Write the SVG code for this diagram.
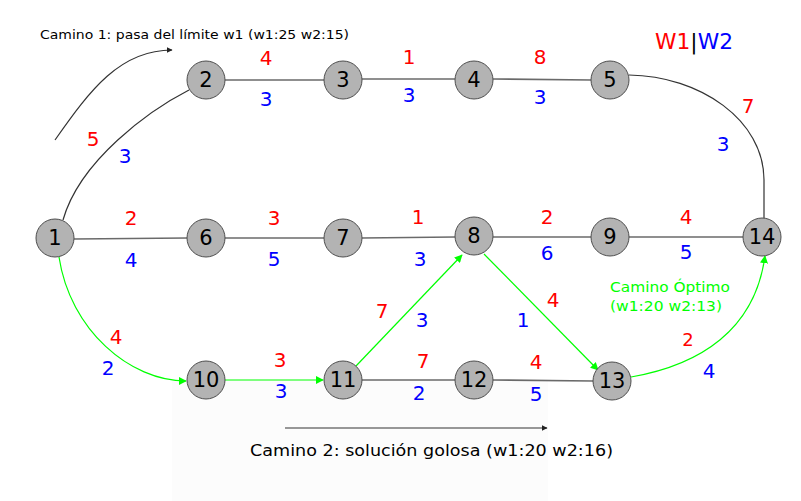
<svg xmlns="http://www.w3.org/2000/svg" width="801" height="501" viewBox="0 0 801 501">
<defs>
<marker id="ag" viewBox="0 0 10 10" refX="9" refY="5" markerWidth="8" markerHeight="8" markerUnits="userSpaceOnUse" orient="auto"><path d="M0,0 L10,5 L0,10 z" fill="#00ff00"/></marker>
<marker id="ak" viewBox="0 0 10 10" refX="9" refY="5" markerWidth="6" markerHeight="6" markerUnits="userSpaceOnUse" orient="auto"><path d="M0,0 L10,5 L0,10 z" fill="#222"/></marker>
</defs>
<style>
.e{fill:none;stroke:#6a6a6a;stroke-width:1.6}
.d{fill:none;stroke:#333;stroke-width:1.2}
.g{fill:none;stroke:#00ff00;stroke-width:1.2;marker-end:url(#ag)}
.n circle{fill:#b3b3b3;stroke:#4d4d4d;stroke-width:1}
.n text{font-family:"DejaVu Sans",sans-serif;font-size:21px;fill:#000;text-anchor:middle}
.r,.b{font-family:"DejaVu Sans",sans-serif;font-size:20px;text-anchor:middle}
.r{fill:#ff0000}.b{fill:#0000ff}
.t{font-family:"DejaVu Sans",sans-serif;font-size:13px}
</style>
<rect width="801" height="501" fill="#fff"/>
<rect x="172" y="380" width="376" height="121" fill="#fcfcfc"/>
<g id="connectors">
<path class="d" d="M63,220 C80,160 150,110 189,90"/>
<path class="e" d="M225,80 L324,80"/>
<path class="e" d="M362,79 L455,79"/>
<path class="e" d="M493,79 L591,80"/>
<path class="d" d="M629,75 C700,76 764,120 764,180 L764,218"/>
<path class="e" d="M74,239 L187,238"/>
<path class="e" d="M225,238 L324,238"/>
<path class="e" d="M362,238 L455,237"/>
<path class="e" d="M493,237 L591,237"/>
<path class="e" d="M629,237 L743,237"/>
<path class="e" d="M362,380 L455,380"/>
<path class="e" d="M493,380 L593,381"/>
<path class="g" d="M59,257 C70,330 130,381 186,381"/>
<path class="g" d="M225,380 L323,380"/>
<path class="g" d="M356,366 L462,255"/>
<path class="g" d="M484,254 L598,370"/>
<path class="g" d="M631,377 C700,365 755,330 765,256"/>
<path class="d" style="marker-end:url(#ak)" d="M55,140 C90,90 120,50 172,50"/>
<path class="d" style="marker-end:url(#ak)" d="M285,428 L547,428"/>
</g>
<g id="n1" class="n"><circle cx="55" cy="238" r="19"/><text x="55" y="245">1</text></g>
<g id="n2" class="n"><circle cx="206" cy="80" r="19"/><text x="206" y="87">2</text></g>
<g id="n3" class="n"><circle cx="343" cy="80" r="19"/><text x="343" y="87">3</text></g>
<g id="n4" class="n"><circle cx="474" cy="80" r="19"/><text x="474" y="87">4</text></g>
<g id="n5" class="n"><circle cx="610" cy="80" r="19"/><text x="610" y="87">5</text></g>
<g id="n6" class="n"><circle cx="206" cy="238" r="19"/><text x="206" y="245">6</text></g>
<g id="n7" class="n"><circle cx="343" cy="238" r="19"/><text x="343" y="245">7</text></g>
<g id="n8" class="n"><circle cx="474" cy="236" r="19"/><text x="474" y="243">8</text></g>
<g id="n9" class="n"><circle cx="610" cy="237" r="19"/><text x="610" y="244">9</text></g>
<g id="n14" class="n"><circle cx="762" cy="237" r="19"/><text x="762" y="244">14</text></g>
<g id="n10" class="n"><circle cx="206" cy="380" r="19"/><text x="206" y="387">10</text></g>
<g id="n11" class="n"><circle cx="343" cy="380" r="19"/><text x="343" y="387">11</text></g>
<g id="n12" class="n"><circle cx="474" cy="380" r="19"/><text x="474" y="387">12</text></g>
<g id="n13" class="n"><circle cx="612" cy="381" r="19"/><text x="612" y="388">13</text></g>
<g id="labels">
<text class="r" x="266" y="65">4</text><text class="b" x="266" y="106">3</text>
<text class="r" x="409" y="64">1</text><text class="b" x="409" y="102">3</text>
<text class="r" x="540" y="64">8</text><text class="b" x="540" y="104">3</text>
<text class="r" x="93" y="146">5</text><text class="b" x="125" y="163">3</text>
<text class="r" x="748" y="113">7</text><text class="b" x="723" y="151">3</text>
<text class="r" x="131" y="225">2</text><text class="b" x="131" y="267">4</text>
<text class="r" x="274" y="225">3</text><text class="b" x="274" y="266">5</text>
<text class="r" x="418" y="224">1</text><text class="b" x="420" y="266">3</text>
<text class="r" x="547" y="224">2</text><text class="b" x="547" y="260">6</text>
<text class="r" x="686" y="224">4</text><text class="b" x="686" y="259">5</text>
<text class="r" x="116" y="344">4</text><text class="b" x="108" y="375">2</text>
<text class="r" x="280" y="367">3</text><text class="b" x="281" y="398">3</text>
<text class="r" x="382" y="318">7</text><text class="b" x="422" y="327">3</text>
<text class="r" x="553" y="307">4</text><text class="b" x="523" y="327">1</text>
<text class="r" x="423" y="368">7</text><text class="b" x="419" y="400">2</text>
<text class="r" x="536" y="369">4</text><text class="b" x="536" y="401">5</text>
<text class="r" x="688" y="346" style="font-size:18px">2</text><text class="b" x="709" y="378">4</text>
<text x="655" y="49" style="font-family:'DejaVu Sans',sans-serif;font-size:21px" textLength="78" lengthAdjust="spacingAndGlyphs"><tspan fill="#ff0000">W1</tspan><tspan fill="#000">|</tspan><tspan fill="#0000ff">W2</tspan></text>
<text class="t" x="40" y="39" fill="#000" textLength="309" lengthAdjust="spacingAndGlyphs">Camino 1: pasa del límite w1 (w1:25 w2:15)</text>
<text class="t" x="250" y="456" fill="#000" style="font-size:15px" textLength="363" lengthAdjust="spacingAndGlyphs">Camino 2: solución golosa (w1:20 w2:16)</text>
<text class="t" x="610" y="292" fill="#00ff00" style="font-size:14px" textLength="120" lengthAdjust="spacingAndGlyphs">Camino Óptimo</text>
<text class="t" x="610" y="311" fill="#00ff00" style="font-size:14px" textLength="112" lengthAdjust="spacingAndGlyphs">(w1:20 w2:13)</text>
</g>
</svg>
